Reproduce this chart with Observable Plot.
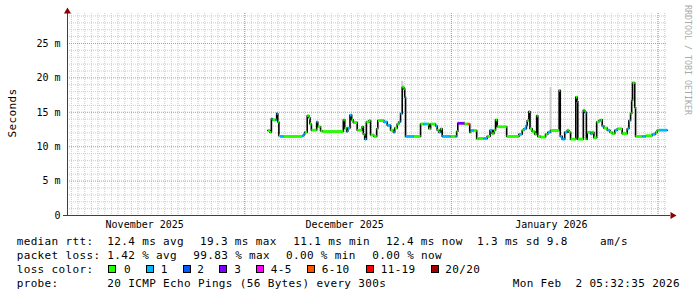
<!DOCTYPE html>
<html><head><meta charset="utf-8">
<script src="https://cdn.jsdelivr.net/npm/d3@7"></script>
<script src="https://cdn.jsdelivr.net/npm/@observablehq/plot@0.6"></script>
<style>
html,body{margin:0;padding:0;background:#fff;}
#chart{width:697px;height:297px;overflow:hidden;}
</style></head><body><div id="chart"></div>
<script>
// ---- data ----
const times = [
"2025-12-04T11","2025-12-04T19","2025-12-05T00","2025-12-05T04","2025-12-05T15","2025-12-05T19","2025-12-05T23","2025-12-06T03","2025-12-06T07","2025-12-06T21",
"2025-12-09T15","2025-12-09T21","2025-12-10T00","2025-12-10T09","2025-12-10T15","2025-12-10T19","2025-12-11T00","2025-12-11T19","2025-12-11T23","2025-12-12T09",
"2025-12-12T16","2025-12-15T19","2025-12-16T00","2025-12-16T07","2025-12-16T11","2025-12-16T19","2025-12-17T01","2025-12-17T07","2025-12-17T21","2025-12-18T15",
"2025-12-18T19","2025-12-19T00","2025-12-19T06","2025-12-19T15","2025-12-19T21","2025-12-20T09","2025-12-20T19","2025-12-20T23","2025-12-21T21","2025-12-22T09",
"2025-12-22T21","2025-12-23T07","2025-12-23T12","2025-12-23T21","2025-12-24T03","2025-12-24T09","2025-12-24T15","2025-12-24T21","2025-12-25T00","2025-12-25T03",
"2025-12-26T09","2025-12-27T09","2025-12-27T19","2025-12-28T09","2025-12-28T15","2025-12-28T21","2025-12-29T15","2025-12-29T21","2025-12-30T03","2025-12-30T09",
"2025-12-30T15","2025-12-31T21","2026-01-01T15","2026-01-01T19","2026-01-01T23","2026-01-02T23","2026-01-03T11","2026-01-03T18","2026-01-03T21","2026-01-04T08",
"2026-01-04T19","2026-01-05T02","2026-01-05T20","2026-01-06T09","2026-01-06T19","2026-01-07T03","2026-01-07T09","2026-01-07T15","2026-01-07T21","2026-01-09T07",
"2026-01-11T03","2026-01-11T15","2026-01-11T21","2026-01-12T06","2026-01-12T09","2026-01-12T15","2026-01-12T19","2026-01-13T03","2026-01-13T12","2026-01-13T19",
"2026-01-13T23","2026-01-14T09","2026-01-15T03","2026-01-15T11","2026-01-15T21","2026-01-17T04","2026-01-17T08","2026-01-17T15","2026-01-18T00","2026-01-18T09",
"2026-01-18T15","2026-01-18T21","2026-01-19T16","2026-01-19T21","2026-01-19T23","2026-01-20T19","2026-01-21T00","2026-01-21T06","2026-01-21T09","2026-01-21T21",
"2026-01-22T03","2026-01-22T09","2026-01-22T19","2026-01-23T03","2026-01-23T09","2026-01-23T15","2026-01-23T21","2026-01-24T09","2026-01-24T19","2026-01-25T03",
"2026-01-25T12","2026-01-25T21","2026-01-26T15","2026-01-27T09","2026-01-27T15","2026-01-27T21","2026-01-28T01","2026-01-28T04","2026-01-28T12","2026-01-28T15",
"2026-01-29T16","2026-01-30T03","2026-01-31T03","2026-01-31T15","2026-01-31T21","2026-02-01T03","2026-02-02T09"
];
const medianMs = [
12.35,12.1,14.05,13.9,13.9,14.8,13.6,11.6,11.5,11.5,
11.6,11.8,12.1,14.5,14.2,13.3,12.4,13.6,12.9,12.3,
12.2,13.9,12.7,12.2,12.7,14.6,13.9,13.5,12.4,12.9,
11.8,11.1,13.6,13.8,11.7,11.5,12.6,13.8,13.6,13.1,
12.4,12.1,12.7,13.3,13.6,14.8,18.65,18.4,17.2,11.5,
11.5,13.3,13.3,13.3,12.6,13.3,13.0,12.4,12.1,12.6,
11.5,11.5,11.5,12.2,13.4,13.3,13.3,12.1,12.35,12.35,
11.15,11.2,11.2,11.5,12.4,11.9,12.4,13.9,12.9,11.5,
11.8,12.4,12.6,13.1,13.8,15.1,12.6,12.2,11.8,14.5,
11.5,11.4,11.8,12.1,12.35,18.2,11.5,11.1,12.1,12.4,
12.1,11.1,17.2,16.6,11.1,15.3,15.0,11.1,12.1,11.9,
12.1,11.3,13.6,13.8,13.9,13.0,12.7,12.4,12.1,11.9,
12.4,12.6,11.9,12.6,13.8,14.8,16.7,19.3,15.7,11.5,
11.5,11.6,11.8,12.1,12.4,12.4,12.4
];
const lossCount = [
0,0,1,0,1,1,0,0,1,0,
1,1,0,0,0,0,0,1,0,0,
0,0,0,1,1,1,0,0,0,0,
0,1,0,0,0,0,0,0,1,1,
0,1,0,0,1,1,0,0,1,1,
0,0,1,0,0,0,1,0,1,0,
1,0,1,0,3,0,7,0,1,0,
0,0,1,0,1,0,0,0,0,0,
1,0,1,1,0,0,0,0,0,0,
0,0,0,1,0,0,1,1,1,0,
0,0,0,1,0,0,1,0,0,1,
0,0,0,1,0,1,0,1,0,0,
1,0,0,1,1,0,0,0,0,0,
1,0,1,0,0,1,1
];
const smokeTimes = ["2025-12-24T15","2026-01-15T21"];
const smokeLow = [18.6, 12.0];
const smokeHigh = [19.5, 18.6];

const monthStarts = ["2025-12-01","2026-01-01","2026-02-01"];
const monthLabelDates = ["2025-11-16","2025-12-16","2026-01-16"];
const monthLabels = ["November 2025","December 2025","January 2026"];
const yMajorTicks = [0,5,10,15,20,25];
const yTickLabels = ["0","5 m","10 m","15 m","20 m","25 m"];

const lossLegendLabels = ["0","1","2","3","4-5","6-10","11-19","20/20"];
const lossLegendColors = ["#26ff00","#00b8ff","#0059ff","#7e00ff","#ff00ff","#ff5500","#ff0000","#a10000"];
const lossUpper = [0,1,2,3,5,10,19,20];

const statRow1 = [["median rtt:",16.7],["12.4 ms avg",107.3],["19.3 ms max",200],["11.1 ms min",293.3],["12.4 ms now",386],["1.3 ms sd",477],["9.8",546.7],["am/s",600]];
const statRow2 = [["packet loss:",16.7],["1.42 % avg",107.3],["99.83 % max",193.3],["0.00 % min",286],["0.00 % now",372.3]];
const statRow3Title = "loss color:";
const legendBoxX = [108.3,145.7,182.7,219.3,256,306.7,365.7,430.7];
const legendLabelX = [124,160.7,197.3,234.3,270.7,321.7,380.7,445.3];
const statRow4 = [["probe:",16.7],["20 ICMP Echo Pings (56 Bytes) every 300s",107.3],["Mon Feb  2 05:32:35 2026",512.7]];
const yTitle = "Seconds";
const watermark = "RRDTOOL / TOBI OETIKER";

// ---- build ----
const parse = s => new Date(s + (s.length === 10 ? "T00:00:00Z" : ":00:00Z"));
const lossColor = n => lossLegendColors[lossUpper.findIndex(u => n <= u)];
const series = times.map((t, i) => ({t: parse(t), v: medianMs[i], c: lossColor(lossCount[i])}));
const segments = series.slice(0, -1).map((d, i) => ({t1: d.t, t2: series[i + 1].t, v: d.v, c: d.c}));
const smoke = smokeTimes.map((t, i) => ({t: parse(t), lo: smokeLow[i], hi: smokeHigh[i]}));

const start = new Date("2025-11-04T10:00:00Z");
const end = new Date("2026-02-02T10:00:00Z");
const days = d3.utcDay.range(start, end);
const minorY = d3.range(1, 30).filter(v => v % 5 !== 0);
const labelMap = new Map(monthLabelDates.map((d, i) => [+parse(d), monthLabels[i]]));

const mono = "'DejaVu Sans Mono', monospace";
const axisColor = "#404040";
const arrowColor = "#8b0000";
const majorGrid = "#f08080";
const minorGrid = "#cccccc";

const plot = Plot.plot({
  width: 697, height: 297,
  marginTop: 13, marginRight: 30, marginBottom: 82, marginLeft: 67,
  style: {background: "#fff", fontFamily: mono, fontSize: "10px", color: "#000"},
  x: {type: "utc", domain: [start, end], label: null},
  y: {domain: [0, 29.36], label: null},
  color: {type: "identity"},
  marks: [
    Plot.ruleY(minorY, {stroke: minorGrid, strokeDasharray: "1,1"}),
    Plot.ruleX(days, {stroke: minorGrid, strokeDasharray: "1,1"}),
    Plot.ruleY(yMajorTicks.filter(v => v > 0), {stroke: majorGrid, strokeDasharray: "1,1"}),
    Plot.ruleX(monthStarts.map(parse), {stroke: majorGrid, strokeDasharray: "1,1"}),
    Plot.ruleX(smoke, {x: "t", y1: "lo", y2: "hi", stroke: "#d0d0d0", strokeWidth: 2}),
    Plot.line(series, {x: "t", y: "v", curve: "step-after", stroke: "#000", strokeWidth: 1.6}),
    Plot.link(segments, {x1: "t1", x2: "t2", y1: "v", y2: "v", stroke: "c", strokeWidth: 2.8}),
    Plot.ruleY([0], {stroke: axisColor, insetLeft: -4, insetRight: -3}),
    Plot.ruleX([start], {stroke: axisColor, insetTop: -3, insetBottom: 0}),
    Plot.dot([0], {frameAnchor: "top-left", symbol: "triangle", r: 2.6, fill: arrowColor, stroke: "none", dy: -2}),
    Plot.dot([0], {frameAnchor: "bottom-right", symbol: "triangle", r: 2.6, fill: arrowColor, stroke: "none", dx: 5, rotate: 90}),
    Plot.axisY(yMajorTicks, {tickSize: 0, tickPadding: 7, fontSize: 10, fontFamily: mono, label: null,
      tickFormat: d => yTickLabels[yMajorTicks.indexOf(d)]}),
    Plot.axisX(monthLabelDates.map(parse), {tickSize: 0, tickPadding: 5, fontSize: 10, fontFamily: mono, label: null,
      tickFormat: d => labelMap.get(+d)})
  ]
});
document.getElementById("chart").appendChild(plot);

// ---- titles and legend text ----
const svg = d3.select(plot);
const txt = (x, y, s) => svg.append("text").attr("x", x).attr("y", y).text(s)
    .attr("text-anchor", "start")
    .style("font-family", mono).style("font-size", "11px").style("letter-spacing", "0.35px")
    .style("white-space", "pre").attr("fill", "#000");
svg.append("text").attr("transform", "translate(12,113) rotate(-90)")
  .attr("text-anchor", "middle").attr("dominant-baseline", "central")
  .style("font-family", mono).style("font-size", "11px").style("letter-spacing", "0.35px")
  .attr("fill", "#000").text(yTitle);
svg.append("text").attr("transform", "translate(688,60) rotate(90)")
  .attr("text-anchor", "middle").attr("dominant-baseline", "central")
  .style("font-family", mono).style("font-size", "8.3px")
  .attr("fill", "#aaaaaa").text(watermark);

const rows = [245, 259, 273, 287];
statRow1.forEach(([s, x]) => txt(x, rows[0], s));
statRow2.forEach(([s, x]) => txt(x, rows[1], s));
txt(16.7, rows[2], statRow3Title);
lossLegendLabels.forEach((s, i) => {
  svg.append("rect").attr("x", Math.round(legendBoxX[i]) + 0.5).attr("y", 265.5)
    .attr("width", 7).attr("height", 7)
    .attr("fill", lossLegendColors[i]).attr("stroke", "#000").attr("stroke-width", 1);
  txt(legendLabelX[i], rows[2], s);
});
statRow4.forEach(([s, x]) => txt(x, rows[3], s));
</script>
</body></html>
